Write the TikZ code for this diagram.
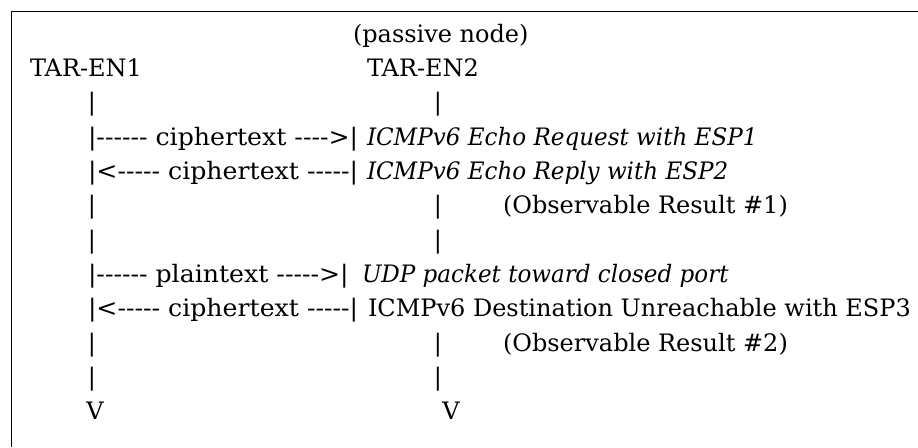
\documentclass[tikz,border=0pt]{standalone}
\usepackage{fontspec}
\setmainfont{DejaVu Serif}[ItalicFeatures={FakeStretch=0.96}]
% slightly wider face for the ASCII arrows between the lifelines
\newfontfamily\arrowfont{DejaVu Serif}[FakeStretch=1.05]
% plain hyphen that cannot be merged into a dash
\newcommand\hy{-\kern0pt}
\tikzset{
  txt/.style={anchor=base west, inner sep=0pt, outer sep=0pt,
    font=\fontsize{24}{34}\selectfont},
  msg/.style={txt, font=\fontsize{24}{34}\selectfont\itshape},
  arrowtxt/.style={txt, font=\fontsize{24}{34}\selectfont\arrowfont},
  bar/.style={anchor=base, inner sep=0pt, outer sep=0pt,
    font=\fontsize{24}{34}\selectfont},
  frame/.style={line width=1.6pt, black}
}
\begin{document}
\begin{tikzpicture}[x=1pt,y=-1pt]
\useasboundingbox (0,0) rectangle (918,447);
% open frame: left and top edges
\coordinate (fb) at (11.5,447);
\coordinate (fc) at (11.5,11.5);
\coordinate (fr) at (918,11.5);
\draw[frame] (fb) -- (fc) -- (fr);

% headers
\node[txt] (passive) at (353,42) {(passive node)};
\node[txt] (en1) at (30,76) {TAR-EN1};
\node[txt] (en2) at (367,76) {TAR-EN2};

% lifelines
\node[bar] (l2) at (92,110.5) {|};
\node[bar] (r2) at (438,110.5) {|};

% echo request / reply
\node[arrowtxt] (a3) at (88,145) {|\hy\hy\hy\hy\hy\hy{} ciphertext \hy\hy\hy\hy>|};
\node[msg] (m3) at (367,145) {ICMPv6 Echo Request with ESP1};
\node[arrowtxt] (a4) at (88,179) {|<\hy\hy\hy\hy\hy{} ciphertext \hy\hy\hy\hy\hy|};
\node[msg] (m4) at (367,179) {ICMPv6 Echo Reply with ESP2};

\node[bar] (l5) at (92,213) {|};
\node[bar] (r5) at (438,213) {|};
\node[txt] (res1) at (503,213) {(Observable Result \#1)};
\node[bar] (l6) at (92,248) {|};
\node[bar] (r6) at (438,248) {|};

% closed-port probe
\node[arrowtxt] (a7) at (88,282) {|\hy\hy\hy\hy\hy\hy{} plaintext \hy\hy\hy\hy\hy>|};
\node[msg] (m7) at (362,282) {UDP packet toward closed port};
\node[arrowtxt] (a8) at (88,316) {|<\hy\hy\hy\hy\hy{} ciphertext \hy\hy\hy\hy\hy|};
\node[txt] (m8) at (368,316) {ICMPv6 Destination Unreachable with ESP3};

\node[bar] (l9) at (92,351) {|};
\node[bar] (r9) at (438,351) {|};
\node[txt] (res2) at (503,351) {(Observable Result \#2)};
\node[bar] (l10) at (92,385) {|};
\node[bar] (r10) at (438,385) {|};

% lifeline ends
\node[bar] (l11) at (95,419) {V};
\node[bar] (r11) at (451,419) {V};
\end{tikzpicture}
\end{document}
